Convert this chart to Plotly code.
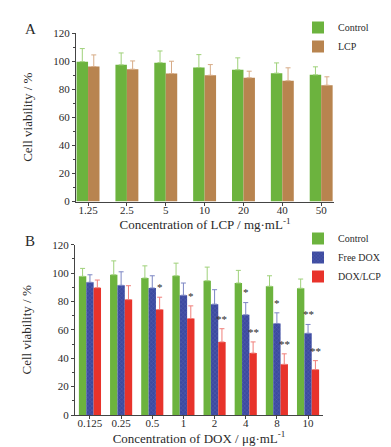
import plotly.graph_objects as go

# ---------------- data ----------------
lcp_conc = ["1.25", "2.5", "5", "10", "20", "40", "50"]
a_control = [99.6, 97.3, 98.9, 95.4, 93.8, 91.4, 90.2]
a_control_err = [9.3, 8.5, 8.3, 9.2, 8.5, 7.3, 5.7]
a_lcp = [96.1, 94.2, 91.1, 89.9, 88.1, 86.0, 82.8]
a_lcp_err = [8.3, 5.9, 8.8, 7.6, 4.7, 9.2, 6.0]

dox_conc = ["0.125", "0.25", "0.5", "1", "2", "4", "8", "10"]
b_control = [97.7, 98.8, 96.5, 98.1, 94.6, 93.0, 90.7, 89.3]
b_control_err = [5.6, 9.8, 8.6, 8.9, 9.6, 8.9, 7.4, 6.5]
b_free = [93.5, 91.4, 89.5, 84.4, 78.1, 70.6, 64.5, 57.6]
b_free_err = [5.3, 9.5, 8.6, 8.6, 10.2, 8.6, 7.5, 6.2]
b_doxlcp = [89.7, 81.3, 74.3, 68.0, 51.5, 43.6, 35.7, 32.0]
b_doxlcp_err = [5.4, 9.8, 8.7, 8.9, 9.3, 7.9, 7.4, 6.3]
b_free_sig = ["", "", "", "", "", "*", "*", "**"]
b_doxlcp_sig = ["", "", "*", "*", "**", "**", "**", "**"]

GREEN = "#6cb33e"
BROWN = "#b8844f"
BLUE = "#3c4aa0"
RED = "#e8332b"
FONT = "Liberation Serif"
TXT = "#2a2a2a"

W, H = 391, 447

fig = go.Figure()

def bar(x, y, err, name, color, errcolor, xa, ya, legend, pattern=None):
    kw = {}
    if pattern:
        kw["marker_pattern"] = pattern
    fig.add_trace(go.Bar(
        x=x, y=y, name=name, xaxis=xa, yaxis=ya, legend=legend,
        marker=dict(color=color, line=dict(width=0)),
        error_y=dict(type="data", symmetric=False, array=err,
                     arrayminus=[0] * len(err), color=errcolor,
                     thickness=1, width=2.5),
        **kw))

bar(lcp_conc, a_control, a_control_err, "Control", GREEN, "#9fd17a", "x", "y", "legend")
bar(lcp_conc, a_lcp, a_lcp_err, "LCP", BROWN, "#d7ab86", "x", "y", "legend")

bar(dox_conc, b_control, b_control_err, "Control", GREEN, "#9fd17a", "x2", "y2", "legend2")
bar(dox_conc, b_free, b_free_err, "Free DOX", BLUE, "#7c86c4", "x2", "y2", "legend2",
    pattern=dict(shape="x", fgcolor="#6a76c0", size=3, solidity=0.3))
bar(dox_conc, b_doxlcp, b_doxlcp_err, "DOX/LCP", RED, "#f07f7a", "x2", "y2", "legend2")

# significance marks
bargap_b = 0.29
bw = (1 - bargap_b) / 3
annots = []
for i, (s, v, e) in enumerate(zip(b_free_sig, b_free, b_free_err)):
    if s:
        annots.append(dict(x=i, y=v + e + 1.5, text=s, xref="x2", yref="y2",
                           showarrow=False, yanchor="bottom",
                           font=dict(family=FONT, size=11, color=TXT)))
for i, (s, v, e) in enumerate(zip(b_doxlcp_sig, b_doxlcp, b_doxlcp_err)):
    if s:
        annots.append(dict(x=i + bw, y=v + e + 1.5, text=s, xref="x2", yref="y2",
                           showarrow=False, yanchor="bottom",
                           font=dict(family=FONT, size=11, color=TXT)))

annots.append(dict(x=22 / W, y=1 - 21 / H, xref="paper", yref="paper", text="A",
                   xanchor="center", yanchor="middle",
                   showarrow=False, font=dict(family=FONT, size=15, color=TXT)))
annots.append(dict(x=22 / W, y=1 - 233 / H, xref="paper", yref="paper", text="B",
                   xanchor="center", yanchor="middle",
                   showarrow=False, font=dict(family=FONT, size=15, color=TXT)))

axis_common = dict(showline=True, linecolor="#444", linewidth=1, ticks="outside",
                   ticklen=3, tickcolor="#444", showgrid=False, zeroline=False,
                   automargin=False,
                   tickfont=dict(family=FONT, size=11, color=TXT))
yaxis_common = dict(axis_common, range=[0, 120], dtick=20,
                    minor=dict(ticks="outside", ticklen=2, dtick=10, tickcolor="#444"),
                    title=dict(text="Cell viability / %", standoff=17,
                               font=dict(family=FONT, size=13, color=TXT)))
xtitle_font = dict(family=FONT, size=13, color=TXT)
legend_font = dict(family=FONT, size=10, color=TXT)

fig.update_layout(
    width=W, height=H, margin=dict(l=0, r=0, t=0, b=0, autoexpand=False),
    paper_bgcolor="white", plot_bgcolor="white",
    barmode="group",
    bargap=0.41,
    bargroupgap=0,
    showlegend=True,
    xaxis=dict(axis_common, domain=[68 / W, 326 / W], anchor="y", range=[-0.31, 6.33],
               ticklabelstandoff=-5,
               title=dict(text="Concentration of LCP / mg·mL<sup>-1</sup>", standoff=3,
                          font=xtitle_font)),
    yaxis=dict(yaxis_common, domain=[1 - 193.5 / H, 1 - 25 / H], anchor="x"),
    xaxis2=dict(axis_common, domain=[67 / W, 315 / W], anchor="y2", range=[-0.48, 7.48],
                ticklabelstandoff=-5,
                title=dict(text="Concentration of DOX / μg·mL<sup>-1</sup>", standoff=3,
                           font=xtitle_font)),
    yaxis2=dict(yaxis_common, domain=[1 - 407 / H, 1 - 236.7 / H], anchor="x2"),
    legend=dict(x=290 / W, y=1 - 5 / H, xanchor="left", yanchor="top",
                bgcolor="rgba(0,0,0,0)", tracegroupgap=0, font=legend_font),
    legend2=dict(x=290 / W, y=1 - 216 / H, xanchor="left", yanchor="top",
                 bgcolor="rgba(0,0,0,0)", tracegroupgap=0, font=legend_font),
    annotations=annots,
)
# Panel B bar widths/offsets derived from its own bar gap
for k, tr in enumerate([t for t in fig.data if t.xaxis == "x2"]):
    tr.width = bw
    tr.offset = -1.5 * bw + k * bw

fig.write_html("out.html")
